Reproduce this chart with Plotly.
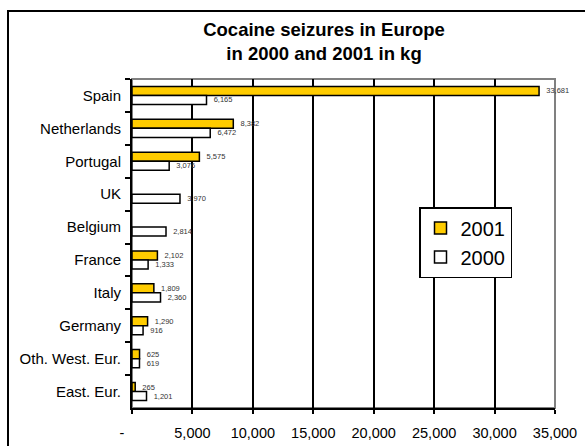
import plotly.graph_objects as go

# data
countries = ["Spain", "Netherlands", "Portugal", "UK", "Belgium", "France",
             "Italy", "Germany", "Oth. West. Eur.", "East. Eur."]
kg_2001 = [33681, 8382, 5575, None, None, 2102, 1809, 1290, 625, 265]
kg_2000 = [6165, 6472, 3076, 3970, 2814, 1333, 2360, 916, 619, 1201]
x_ticks = [0, 5000, 10000, 15000, 20000, 25000, 30000, 35000]
x_tick_labels = ["-\u00a0\u00a0\u00a0\u00a0\u00a0", "5,000", "10,000", "15,000",
                 "20,000", "25,000", "30,000", "35,000"]

FONT = "Liberation Sans, Arial, sans-serif"

fig = go.Figure()
fig.add_trace(go.Bar(y=countries, x=kg_2001, name="2001", orientation="h",
                     marker_color="#FFCC00",
                     marker_line=dict(color="black", width=1.5),
                     texttemplate="\u00a0\u00a0%{x:,}", textposition="outside",
                     textfont=dict(size=7.5, color="#333333", family=FONT),
                     cliponaxis=False))
fig.add_trace(go.Bar(y=countries, x=kg_2000, name="2000", orientation="h",
                     marker_color="white",
                     marker_line=dict(color="black", width=1.5),
                     texttemplate="\u00a0\u00a0%{x:,}", textposition="outside",
                     textfont=dict(size=7.5, color="#333333", family=FONT),
                     cliponaxis=False))

fig.update_layout(
    width=585, height=446,
    margin=dict(l=132, r=30, t=79, b=38, autoexpand=False),
    paper_bgcolor="white", plot_bgcolor="white",
    font=dict(family=FONT, color="black"),
    barmode="group", bargap=0.45, bargroupgap=0,
    title=dict(text="<b>Cocaine seizures in Europe<br>in 2000 and 2001 in kg</b>",
               font=dict(size=18.5, color="black", family=FONT),
               x=324 / 585, xref="container", xanchor="center",
               y=1 - 35.5 / 446, yref="container", yanchor="middle",
               automargin=False),
    legend=dict(x=(419 - 132) / 423, y=(408 - 207) / 329,
                xanchor="left", yanchor="top",
                bgcolor="white", bordercolor="black", borderwidth=1.5,
                font=dict(size=20, family=FONT, color="black"),
                traceorder="normal", tracegroupgap=0),
    showlegend=True,
    shapes=[
        # grey plot-area frame
        dict(type="rect", xref="paper", yref="paper", x0=0, x1=1, y0=0, y1=1,
             line=dict(color="#808080", width=2), layer="below"),
        # outer chart frame
        dict(type="rect", xref="paper", yref="paper",
             x0=(8 - 132) / 423, x1=(600 - 132) / 423,
             y0=(408 - 460) / 329, y1=(408 - 11) / 329,
             line=dict(color="black", width=2)),
    ],
)

fig.update_xaxes(range=[0, 35000], tickvals=x_ticks, ticktext=x_tick_labels,
                 showgrid=True, gridcolor="black", gridwidth=1.5,
                 showline=True, linecolor="black", linewidth=2,
                 ticks="outside", ticklen=4, tickwidth=2, tickcolor="black",
                 tickfont=dict(size=14.5, family=FONT, color="black"),
                 ticklabelstandoff=7, zeroline=False, automargin=False)
fig.update_yaxes(categoryorder="array", categoryarray=countries,
                 autorange="reversed",
                 showline=True, linecolor="black", linewidth=2,
                 ticks="outside", tickson="boundaries", ticklen=5,
                 tickwidth=2, tickcolor="black",
                 tickfont=dict(size=15, family=FONT, color="black"),
                 ticklabelstandoff=6, showgrid=False, zeroline=False,
                 automargin=False)

# the page body has a default 8px margin; drop it so the figure fills the window
fig.write_html("out.html", config={"displayModeBar": False},
               post_script="document.body.style.margin='0';")
